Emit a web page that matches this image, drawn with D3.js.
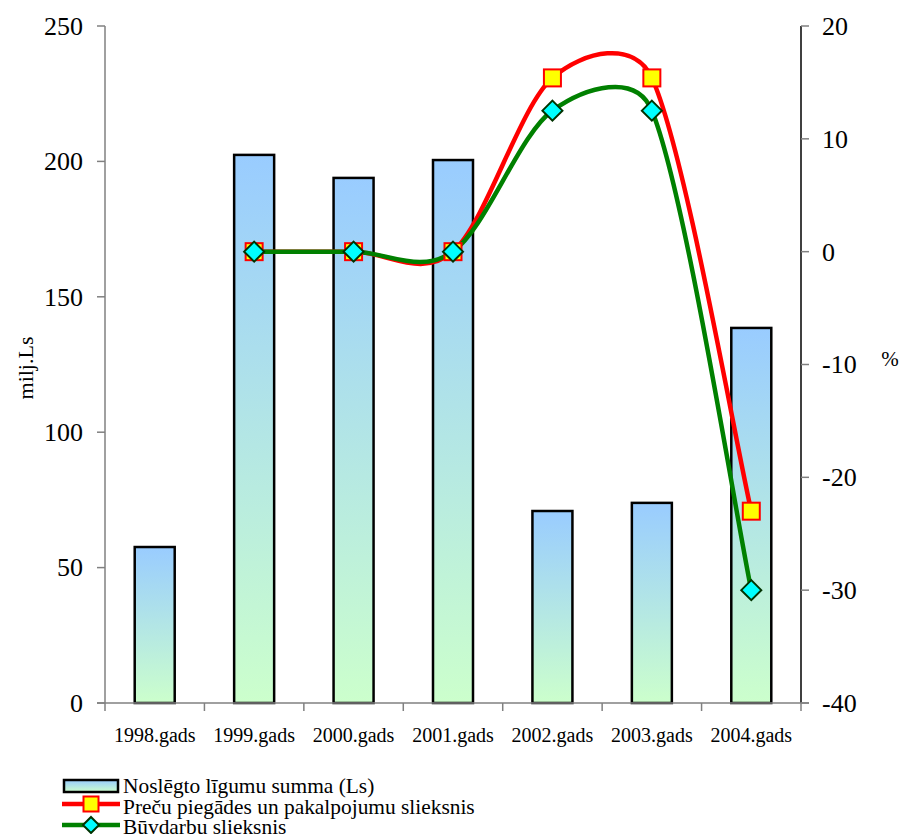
<!DOCTYPE html>
<html><head><meta charset="utf-8">
<script src="https://cdn.jsdelivr.net/npm/d3@7"></script>
<style>body{margin:0;background:#fff}svg{display:block}text{font-family:"Liberation Serif","Times New Roman",serif;fill:#000}</style>
</head><body><svg id="c" width="899" height="834"></svg>
<script>
const categories = ["1998.gads","1999.gads","2000.gads","2001.gads","2002.gads","2003.gads","2004.gads"];
const sums = [57.6, 202.4, 193.9, 200.5, 70.9, 73.9, 138.5];
const goodsThreshold = [null, 0, 0, 0, 15.4, 15.4, -23];
const worksThreshold = [null, 0, 0, 0, 12.5, 12.5, -30];
const leftTicks = [0, 50, 100, 150, 200, 250];
const rightTicks = [-40, -30, -20, -10, 0, 10, 20];
const seriesNames = ["Noslēgto līgumu summa (Ls)", "Preču piegādes un pakalpojumu slieksnis", "Būvdarbu slieksnis"];

// Excel-like smoothing curve (Catmull-Rom Bezier with control-length limit)
function ExcelSmooth(context){ this._context = context; }
ExcelSmooth.prototype = {
  areaStart(){}, areaEnd(){},
  lineStart(){ this._p = []; },
  point(x,y){ this._p.push([+x,+y]); },
  lineEnd(){
    const p = this._p, n = p.length, c = this._context, k = 0.42;
    if(!n) return;
    c.moveTo(p[0][0], p[0][1]);
    if(n===1) return;
    if(n===2){ c.lineTo(p[1][0], p[1][1]); return; }
    const T = p.map((q,i)=>{const a=p[Math.max(0,i-1)], b=p[Math.min(n-1,i+1)]; return [(b[0]-a[0])/6,(b[1]-a[1])/6];});
    const lim = (v, L)=>{const m=Math.hypot(v[0],v[1]); if(m>L){const s=L/m; return [v[0]*s,v[1]*s];} return v;};
    for(let i=0;i<n-1;i++){
      const a=p[i], b=p[i+1], seg=Math.hypot(b[0]-a[0], b[1]-a[1]);
      const t1=lim(T[i], k*seg), t2=lim(T[i+1], k*seg);
      c.bezierCurveTo(a[0]+t1[0], a[1]+t1[1], b[0]-t2[0], b[1]-t2[1], b[0], b[1]);
    }
  }
};
const excelSmooth = ctx => new ExcelSmooth(ctx);

const svg = d3.select("#c");
const L = 105, R = 801, T = 26, B = 703;
const x = d3.scaleBand().domain(categories).range([L, R]).paddingInner(0).paddingOuter(0);
const yL = d3.scaleLinear().domain([0, 250]).range([B, T]);
const yR = d3.scaleLinear().domain([-40, 20]).range([B, T]);

const defs = svg.append("defs");
const g = defs.append("linearGradient").attr("id","bg").attr("x1",0).attr("y1",0).attr("x2",0).attr("y2",1);
g.append("stop").attr("offset","0%").attr("stop-color","#99CCFF");
g.append("stop").attr("offset","100%").attr("stop-color","#CCFFCC");

// bars
const bw = 40;
svg.append("g").selectAll("rect").data(sums).join("rect")
  .attr("x",(d,i)=>x(categories[i]) + x.bandwidth()/2 - bw/2)
  .attr("y",d=>yL(d)).attr("width",bw).attr("height",d=>yL(0)-yL(d))
  .attr("fill","url(#bg)").attr("stroke","#000").attr("stroke-width",2.5);

// axes
const ax = svg.append("g");
ax.append("line").attr("x1",L).attr("x2",L).attr("y1",T).attr("y2",B).attr("stroke","#808080").attr("stroke-width",1.5);
ax.append("line").attr("x1",R).attr("x2",R).attr("y1",T).attr("y2",B).attr("stroke","#000").attr("stroke-width",1.5);
ax.append("line").attr("x1",L-8).attr("x2",R+8).attr("y1",B).attr("y2",B).attr("stroke","#808080").attr("stroke-width",1.5);
ax.selectAll(".lt").data(leftTicks).join("line").attr("x1",L-8).attr("x2",L).attr("y1",d=>yL(d)).attr("y2",d=>yL(d)).attr("stroke","#808080").attr("stroke-width",1.5);
ax.selectAll(".ll").data(leftTicks).join("text").attr("x",L-22).attr("y",d=>yL(d)).attr("dy","0.34em").attr("text-anchor","end").attr("font-size",26).text(d=>d);
ax.selectAll(".rt").data(rightTicks).join("line").attr("x1",R).attr("x2",R+8).attr("y1",d=>yR(d)).attr("y2",d=>yR(d)).attr("stroke","#808080").attr("stroke-width",1.5);
ax.selectAll(".rl").data(rightTicks).join("text").attr("x",R+21).attr("y",d=>yR(d)).attr("dy","0.34em").attr("text-anchor","start").attr("font-size",26).text(d=>d);
const bticks = categories.map(c=>x(c)).concat([R]);
ax.selectAll(".bt").data(bticks).join("line").attr("x1",d=>d).attr("x2",d=>d).attr("y1",B).attr("y2",B+8).attr("stroke","#808080").attr("stroke-width",1.5);
ax.selectAll(".bl").data(categories).join("text").attr("x",d=>x(d)+x.bandwidth()/2).attr("y",742).attr("text-anchor","middle").attr("font-size",20).text(d=>d);

svg.append("text").attr("transform","translate(33,368) rotate(-90)").attr("text-anchor","middle").attr("font-size",22).text("milj.Ls");
svg.append("text").attr("x",890).attr("y",366).attr("text-anchor","middle").attr("font-size",21).text("%");

// lines
const cx = i => x(categories[i]) + x.bandwidth()/2;
const line = d3.line().defined(d=>d.v!==null).x(d=>cx(d.i)).y(d=>yR(d.v)).curve(excelSmooth);
const gd = goodsThreshold.map((v,i)=>({v,i}));
const wd = worksThreshold.map((v,i)=>({v,i}));
svg.append("path").attr("d",line(gd)).attr("fill","none").attr("stroke","#FF0000").attr("stroke-width",4.5);
svg.append("path").attr("d",line(wd)).attr("fill","none").attr("stroke","#008000").attr("stroke-width",4.5);
const sq = 17;
svg.append("g").selectAll("rect").data(gd.filter(d=>d.v!==null)).join("rect")
  .attr("x",d=>cx(d.i)-sq/2).attr("y",d=>yR(d.v)-sq/2).attr("width",sq).attr("height",sq)
  .attr("fill","#FFFF00").attr("stroke","#FF0000").attr("stroke-width",2);
const dm = 10;
svg.append("g").selectAll("path").data(wd.filter(d=>d.v!==null)).join("path")
  .attr("d",d=>{const X=cx(d.i),Y=yR(d.v);return `M${X},${Y-dm}L${X+dm},${Y}L${X},${Y+dm}L${X-dm},${Y}Z`;})
  .attr("fill","#00FFFF").attr("stroke","#003300").attr("stroke-width",2);

// legend
const lg = svg.append("g");
const fs = 21.4;
lg.append("rect").attr("x",64).attr("y",780).attr("width",54).attr("height",12).attr("fill","url(#bg)").attr("stroke","#000").attr("stroke-width",2.5);
lg.append("text").attr("x",123).attr("y",793).attr("font-size",fs).text(seriesNames[0]);
lg.append("line").attr("x1",62).attr("x2",120).attr("y1",804).attr("y2",804).attr("stroke","#FF0000").attr("stroke-width",4.5);
lg.append("rect").attr("x",91-sq/2+1).attr("y",804-sq/2+1).attr("width",sq-2).attr("height",sq-2).attr("fill","#FFFF00").attr("stroke","#FF0000").attr("stroke-width",2);
lg.append("text").attr("x",123).attr("y",814).attr("font-size",fs).text(seriesNames[1]);
lg.append("line").attr("x1",62).attr("x2",120).attr("y1",825).attr("y2",825).attr("stroke","#008000").attr("stroke-width",4.5);
lg.append("path").attr("d",`M91,${825-8}L99,825L91,${825+8}L83,825Z`).attr("fill","#00FFFF").attr("stroke","#003300").attr("stroke-width",2);
lg.append("text").attr("x",123).attr("y",834).attr("font-size",fs).text(seriesNames[2]);
</script></body></html>
